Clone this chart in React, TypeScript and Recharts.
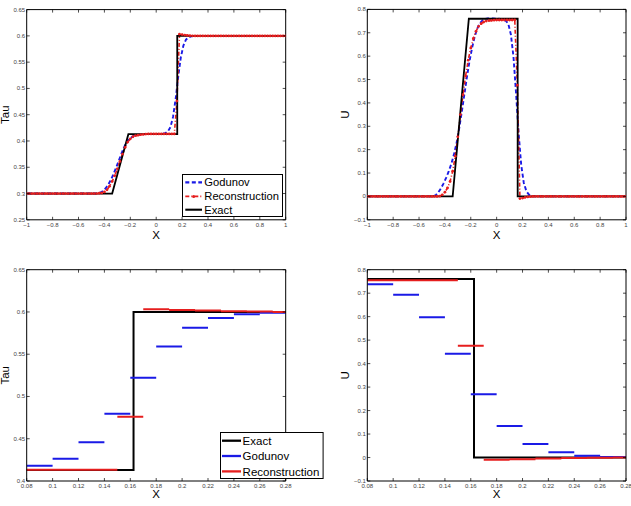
import React from 'react';
import { LineChart, Line, XAxis, YAxis, Legend, Label } from 'recharts';

const FONT = '"Liberation Sans", Arial, Helvetica, sans-serif';
const BLUE = '#1a1ae6';
const RED = '#e61e1e';
const BLACK = '#000000';

// Uniform mesh of 100 cells on [-1, 1]
const CELL = 0.02;
const godunovX = Array.from({ length: 100 }, (_, i) => +(-0.99 + CELL * i).toFixed(2));
const reconX = Array.from({ length: 101 }, (_, j) => +(-1 + CELL * j).toFixed(2));

// Godunov scheme, specific volume (cell centres -0.99 … 0.99)
const godunovTau = [
  0.3, 0.3, 0.3, 0.3, 0.3, 0.3, 0.3, 0.3, 0.3, 0.3,
  0.3, 0.3, 0.3, 0.3, 0.3, 0.3, 0.3, 0.3, 0.3, 0.3,
  0.3, 0.3, 0.3, 0.3, 0.3, 0.3, 0.3, 0.3005, 0.302, 0.305,
  0.31, 0.317, 0.326, 0.337, 0.349, 0.362, 0.375, 0.387, 0.397, 0.403,
  0.407, 0.41, 0.411, 0.412, 0.4125, 0.413, 0.413, 0.413, 0.413, 0.413,
  0.413, 0.4133, 0.4138, 0.415, 0.418, 0.4264, 0.4458, 0.4797, 0.5223, 0.559,
  0.5814, 0.5929, 0.5973, 0.599, 0.5997, 0.6, 0.6, 0.6, 0.6, 0.6,
  0.6, 0.6, 0.6, 0.6, 0.6, 0.6, 0.6, 0.6, 0.6, 0.6,
  0.6, 0.6, 0.6, 0.6, 0.6, 0.6, 0.6, 0.6, 0.6, 0.6,
  0.6, 0.6, 0.6, 0.6, 0.6, 0.6, 0.6, 0.6, 0.6, 0.6,
];

// Reconstruction scheme, specific volume (nodes -1 … 1)
const reconTau = [
  0.3, 0.3, 0.3, 0.3, 0.3, 0.3, 0.3, 0.3, 0.3, 0.3,
  0.3, 0.3, 0.3, 0.3, 0.3, 0.3, 0.3, 0.3, 0.3, 0.3,
  0.3, 0.3, 0.3, 0.3, 0.3, 0.3, 0.3, 0.3, 0.3005, 0.301,
  0.303, 0.307, 0.314, 0.323, 0.334, 0.347, 0.361, 0.375, 0.388, 0.398,
  0.404, 0.408, 0.41, 0.411, 0.412, 0.4125, 0.4132, 0.4134, 0.4134, 0.4134,
  0.4134, 0.4134, 0.4134, 0.4134, 0.4134, 0.4134, 0.4134, 0.4134, 0.476, 0.6032,
  0.6024, 0.6016, 0.6008, 0.6004, 0.6001, 0.6, 0.6, 0.6, 0.6, 0.6,
  0.6, 0.6, 0.6, 0.6, 0.6, 0.6, 0.6, 0.6, 0.6, 0.6,
  0.6, 0.6, 0.6, 0.6, 0.6, 0.6, 0.6, 0.6, 0.6, 0.6,
  0.6, 0.6, 0.6, 0.6, 0.6, 0.6, 0.6, 0.6, 0.6, 0.6,
  0.6,
];

// Godunov scheme, velocity
const godunovU = [
  0, 0, 0, 0, 0, 0, 0, 0, 0, 0,
  0, 0, 0, 0, 0, 0, 0, 0, 0, 0,
  0, 0, 0, 0, 0, 0.001, 0.006, 0.018, 0.035, 0.056,
  0.08, 0.108, 0.14, 0.18, 0.228, 0.29, 0.36, 0.435, 0.51, 0.578,
  0.635, 0.683, 0.718, 0.741, 0.753, 0.759, 0.761, 0.762, 0.761, 0.76,
  0.76, 0.759, 0.757, 0.752, 0.738, 0.693, 0.598, 0.442, 0.269, 0.134,
  0.0575, 0.022, 0.0077, 0.0025, 0.0008, 0, 0, 0, 0, 0,
  0, 0, 0, 0, 0, 0, 0, 0, 0, 0,
  0, 0, 0, 0, 0, 0, 0, 0, 0, 0,
  0, 0, 0, 0, 0, 0, 0, 0, 0, 0,
];

// Reconstruction scheme, velocity
const reconU = [
  0, 0, 0, 0, 0, 0, 0, 0, 0, 0,
  0, 0, 0, 0, 0, 0, 0, 0, 0, 0,
  0, 0, 0, 0, 0, 0, 0, 0, 0.001, 0.007,
  0.018, 0.036, 0.064, 0.108, 0.172, 0.255, 0.35, 0.435, 0.515, 0.583,
  0.635, 0.676, 0.706, 0.727, 0.739, 0.746, 0.75, 0.752, 0.753, 0.754,
  0.7547, 0.7547, 0.7547, 0.7547, 0.7547, 0.7547, 0.7547, 0.7547, 0.476, -0.009,
  -0.007, -0.004, -0.002, -0.001, 0, 0, 0, 0, 0, 0,
  0, 0, 0, 0, 0, 0, 0, 0, 0, 0,
  0, 0, 0, 0, 0, 0, 0, 0, 0, 0,
  0, 0, 0, 0, 0, 0, 0, 0, 0, 0,
  0,
];

// Exact Riemann solution (rarefaction + shock)
const exactX = [-1, -0.34, -0.215, 0.1625, 0.1625, 1];
const exactTau = [0.3, 0.3, 0.413, 0.413, 0.6, 0.6];
const exactU = [0, 0, 0.76, 0.76, 0, 0];

// Axis ticks
const fullXTicks = [-1, -0.8, -0.6, -0.4, -0.2, 0, 0.2, 0.4, 0.6, 0.8, 1];
const zoomXTicks = [0.08, 0.1, 0.12, 0.14, 0.16, 0.18, 0.2, 0.22, 0.24, 0.26, 0.28];
const tauTicks = [0.25, 0.3, 0.35, 0.4, 0.45, 0.5, 0.55, 0.6, 0.65];
const tauZoomTicks = [0.4, 0.45, 0.5, 0.55, 0.6, 0.65];
const uTicks = [-0.1, 0, 0.1, 0.2, 0.3, 0.4, 0.5, 0.6, 0.7, 0.8];

type Pt = { x: number; y: number | null };

const points = (xs: number[], ys: number[]): Pt[] => xs.map((x, k) => ({ x, y: ys[k] }));

// Piecewise-constant cell values as separate horizontal segments
const cellSegments = (xs: number[], ys: number[], lo: number, hi: number): Pt[] => {
  const out: Pt[] = [];
  xs.forEach((c, k) => {
    const a = c - CELL / 2;
    const b = c + CELL / 2;
    if (b <= lo + 1e-9 || a >= hi - 1e-9) return;
    out.push({ x: a, y: ys[k] }, { x: b, y: ys[k] }, { x: b, y: null });
  });
  return out;
};

const fmt = (v: number) => (v < 0 ? '\u2212' + String(-v) : String(v));

const tickText = { fontSize: 6, fill: '#444', fontFamily: FONT } as const;

const bottomTick = (p: any) => (
  <g>
    <line x1={p.x} x2={p.x} y1={p.y} y2={p.y - 3} stroke="#000" strokeWidth={0.7} />
    <text x={p.x} y={p.y + 7} textAnchor="middle" {...tickText}>{fmt(p.payload.value)}</text>
  </g>
);
const topTick = (p: any) => (
  <line x1={p.x} x2={p.x} y1={p.y} y2={p.y + 3} stroke="#000" strokeWidth={0.7} />
);
const leftTick = (p: any) => (
  <g>
    <line x1={p.x} x2={p.x + 3} y1={p.y} y2={p.y} stroke="#000" strokeWidth={0.7} />
    <text x={p.x - 1.5} y={p.y + 2} textAnchor="end" {...tickText}>{fmt(p.payload.value)}</text>
  </g>
);
const rightTick = (p: any) => (
  <line x1={p.x} x2={p.x - 3} y1={p.y} y2={p.y} stroke="#000" strokeWidth={0.7} />
);

type SeriesDef = {
  name: string;
  data: Pt[];
  color: string;
  width: number;
  dash?: string;
  dots?: boolean;
};

type LegendDef = {
  left: number;
  top: number;
  w: number;
  h: number;
  rows: number[];
  s0: number;
  s1: number;
  tx: number;
  fontSize: number;
  order: string[];
};

type PanelProps = {
  left: number;
  top: number;
  width: number;
  height: number;
  plot: { l: number; r: number; t: number; b: number };
  xDomain: [number, number];
  xTicks: number[];
  yDomain: [number, number];
  yTicks: number[];
  yLabel: string;
  yLabelX: number;
  xLabelDy: number;
  series: SeriesDef[];
  legend: LegendDef;
};

const axisLine = { stroke: '#000', strokeWidth: 1 };

function Panel(props: PanelProps) {
  const { left, top, width, height, plot, xDomain, xTicks, yDomain, yTicks, yLabel, yLabelX, xLabelDy, series, legend } = props;
  const byName: Record<string, SeriesDef> = {};
  series.forEach((s) => (byName[s.name] = s));

  const legendContent = () => (
    <svg width={legend.w} height={legend.h} style={{ display: 'block', overflow: 'visible' }}>
      <rect x={0.5} y={0.5} width={legend.w - 1} height={legend.h - 1} fill="#fff" stroke="#000" strokeWidth={1} />
      {legend.order.map((name, k) => {
        const s = byName[name];
        const cy = legend.rows[k];
        return (
          <g key={name}>
            <line x1={legend.s0} x2={legend.s1} y1={cy} y2={cy} stroke={s.color} strokeWidth={s.width + 0.3} strokeDasharray={s.dash} />
            {s.dots && <circle cx={(legend.s0 + legend.s1) / 2} cy={cy} r={1.5} fill={s.color} />}
            <text x={legend.tx} y={cy + legend.fontSize * 0.36} fontSize={legend.fontSize} fontFamily={FONT} fill="#000">
              {name}
            </text>
          </g>
        );
      })}
    </svg>
  );

  // The frame's top and right sides are axes of their own, 1px deep
  const frameAxis = 1;

  return (
    <div style={{ position: 'absolute', left, top, width, height }}>
      <LineChart
        width={width}
        height={height}
        margin={{ top: plot.t - frameAxis, right: width - plot.r - frameAxis, bottom: 0, left: 0 }}
      >
        <XAxis
          xAxisId="b"
          type="number"
          dataKey="x"
          domain={xDomain}
          ticks={xTicks}
          interval={0}
          allowDataOverflow
          height={height - plot.b}
          tickSize={0}
          tickMargin={0}
          tickLine={false}
          axisLine={axisLine}
          tick={bottomTick}
        >
          <Label
            content={(lp: any) => (
              <text
                x={lp.viewBox.x + lp.viewBox.width / 2}
                y={lp.viewBox.y + xLabelDy}
                textAnchor="middle"
                fontSize={11.5}
                fontFamily={FONT}
                fill="#000"
              >
                X
              </text>
            )}
          />
        </XAxis>
        <XAxis
          xAxisId="t"
          orientation="top"
          type="number"
          dataKey="x"
          domain={xDomain}
          ticks={xTicks}
          interval={0}
          allowDataOverflow
          height={frameAxis}
          tickSize={0}
          tickMargin={0}
          tickLine={false}
          axisLine={axisLine}
          tick={topTick}
        />
        <YAxis
          yAxisId="l"
          type="number"
          domain={yDomain}
          ticks={yTicks}
          interval={0}
          allowDataOverflow
          width={plot.l}
          tickSize={0}
          tickMargin={0}
          tickLine={false}
          axisLine={axisLine}
          tick={leftTick}
        >
          <Label
            content={(lp: any) => {
              const cy = lp.viewBox.y + lp.viewBox.height / 2;
              return (
                <text
                  x={yLabelX}
                  y={cy}
                  transform={`rotate(-90, ${yLabelX}, ${cy})`}
                  textAnchor="middle"
                  fontSize={11.5}
                  fontFamily={FONT}
                  fill="#000"
                >
                  {yLabel}
                </text>
              );
            }}
          />
        </YAxis>
        <YAxis
          yAxisId="r"
          orientation="right"
          type="number"
          domain={yDomain}
          ticks={yTicks}
          interval={0}
          allowDataOverflow
          width={frameAxis}
          tickSize={0}
          tickMargin={0}
          tickLine={false}
          axisLine={axisLine}
          tick={rightTick}
        />
        {/* invisible copy of the exact solution, so the frame axes own a series */}
        <Line
          xAxisId="t"
          yAxisId="r"
          data={series[series.length - 1].data}
          dataKey="y"
          stroke="none"
          dot={false}
          activeDot={false}
          legendType="none"
          isAnimationActive={false}
        />
        {series.map((s) => (
          <Line
            key={s.name}
            name={s.name}
            xAxisId="b"
            yAxisId="l"
            data={s.data}
            dataKey="y"
            type="linear"
            stroke={s.color}
            strokeWidth={s.width}
            strokeDasharray={s.dash}
            dot={s.dots ? { r: 1.4, fill: s.color, stroke: 'none' } : false}
            activeDot={false}
            connectNulls={false}
            isAnimationActive={false}
          />
        ))}
        <Legend
          layout="vertical"
          align="center"
          verticalAlign="middle"
          content={legendContent}
          wrapperStyle={{ position: 'absolute', left: legend.left, top: legend.top, width: legend.w, height: legend.h }}
        />
      </LineChart>
    </div>
  );
}

const fullSeries = (god: number[], rec: number[], ex: number[]): SeriesDef[] => [
  { name: 'Godunov', data: points(godunovX, god), color: BLUE, width: 1.9, dash: '4 2.5' },
  { name: 'Reconstruction', data: points(reconX, rec), color: RED, width: 1.6, dash: '4 2 1 2', dots: true },
  { name: 'Exact', data: points(exactX, ex), color: BLACK, width: 1.8 },
];

const zoomSeries = (god: number[], rec: number[], ex: number[]): SeriesDef[] => [
  { name: 'Godunov', data: cellSegments(godunovX, god, 0.08, 0.28), color: BLUE, width: 2 },
  { name: 'Reconstruction', data: cellSegments(reconX, rec, 0.08, 0.28), color: RED, width: 2 },
  { name: 'Exact', data: points(exactX, ex), color: BLACK, width: 2 },
].sort((a, b) => ['Exact', 'Godunov', 'Reconstruction'].indexOf(a.name) - ['Exact', 'Godunov', 'Reconstruction'].indexOf(b.name));

const topLegend: LegendDef = {
  left: 181.7, top: 174.3, w: 101, h: 43, rows: [8.4, 22.4, 35.7], s0: 3.3, s1: 20, tx: 22.3, fontSize: 11.2,
  order: ['Godunov', 'Reconstruction', 'Exact'],
};
const bottomLegend: LegendDef = {
  left: 219.7, top: 177.3, w: 103.6, h: 47, rows: [8.7, 24, 39.4], s0: 2, s1: 21, tx: 22.6, fontSize: 11.5,
  order: ['Exact', 'Godunov', 'Reconstruction'],
};
const noLegend: LegendDef = { ...topLegend, w: 0, h: 0, order: [] };

export default function App() {
  return (
    <div style={{ position: 'absolute', left: 0, top: 0, width: 631, height: 506, background: '#fff' }}>
      <Panel
        left={0} top={0} width={315} height={250}
        plot={{ l: 26.7, r: 285.7, t: 9.6, b: 219.8 }}
        xDomain={[-1, 1]} xTicks={fullXTicks}
        yDomain={[0.25, 0.65]} yTicks={tauTicks}
        yLabel="Tau" yLabelX={9} xLabelDy={19}
        series={fullSeries(godunovTau, reconTau, exactTau)}
        legend={topLegend}
      />
      <Panel
        left={315} top={0} width={316} height={250}
        plot={{ l: 52.3, r: 311, t: 9.4, b: 219.8 }}
        xDomain={[-1, 1]} xTicks={fullXTicks}
        yDomain={[-0.1, 0.8]} yTicks={uTicks}
        yLabel="U" yLabelX={34.5} xLabelDy={19}
        series={fullSeries(godunovU, reconU, exactU)}
        legend={noLegend}
      />
      <Panel
        left={0} top={255} width={315} height={251}
        plot={{ l: 26.7, r: 285.7, t: 14.7, b: 226 }}
        xDomain={[0.08, 0.28]} xTicks={zoomXTicks}
        yDomain={[0.4, 0.65]} yTicks={tauZoomTicks}
        yLabel="Tau" yLabelX={9} xLabelDy={16.5}
        series={zoomSeries(godunovTau, reconTau, exactTau)}
        legend={bottomLegend}
      />
      <Panel
        left={315} top={255} width={316} height={251}
        plot={{ l: 52.3, r: 311, t: 14.7, b: 226 }}
        xDomain={[0.08, 0.28]} xTicks={zoomXTicks}
        yDomain={[-0.1, 0.8]} yTicks={uTicks}
        yLabel="U" yLabelX={34.5} xLabelDy={16.5}
        series={zoomSeries(godunovU, reconU, exactU)}
        legend={noLegend}
      />
    </div>
  );
}
